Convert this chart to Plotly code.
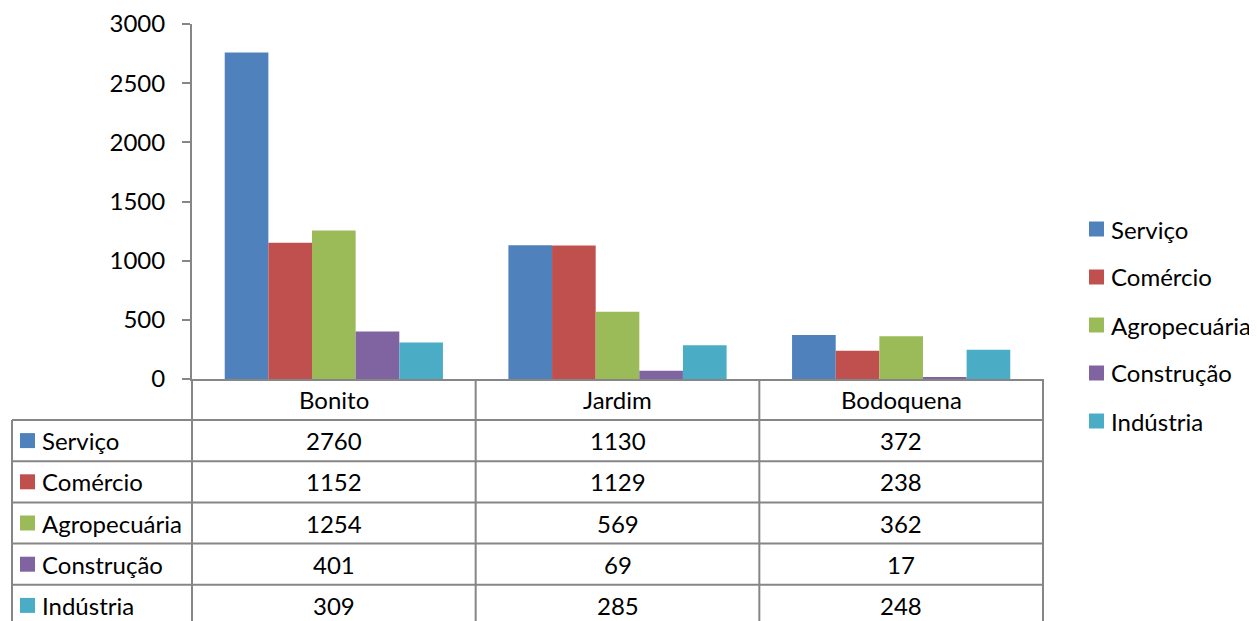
import plotly.graph_objects as go

categories = ["Bonito", "Jardim", "Bodoquena"]
series_names = ["Serviço", "Comércio", "Agropecuária", "Construção", "Indústria"]
servico = [2760, 1130, 372]
comercio = [1152, 1129, 238]
agropecuaria = [1254, 569, 362]
construcao = [401, 69, 17]
industria = [309, 285, 248]
series_values = [servico, comercio, agropecuaria, construcao, industria]
colors = ["#4F81BD", "#C0504D", "#9BBB59", "#8064A2", "#4BACC6"]
y_ticks = [0, 500, 1000, 1500, 2000, 2500, 3000]

W, H = 1257, 621
OFF = 8  # page body margin offset
FONT = "Lato"
FS = 24
GRID = "#868686"
LW = 2


def px(x):
    return (x - OFF) / W


def py(y):
    return 1 - (y - OFF) / H


# layout pixel constants (screen coordinates)
PLOT_L, PLOT_R = 192, 1043
PLOT_T, PLOT_B = 24, 379
TABLE_L = 12
ROW_H = 41.2
HEADER_B = 420

fig = go.Figure()
for name, vals, col in zip(series_names, series_values, colors):
    fig.add_trace(go.Bar(x=categories, y=vals, name=name,
                         marker=dict(color=col, line=dict(width=0)), showlegend=False))

shapes = []
annotations = []
line = dict(color=GRID, width=LW)

# horizontal table lines
for i in range(5):
    yv = HEADER_B + i * ROW_H
    shapes.append(dict(type="line", xref="paper", yref="paper", x0=px(TABLE_L), x1=px(PLOT_R),
                       y0=py(yv), y1=py(yv), line=line))
# vertical table lines
shapes.append(dict(type="line", xref="paper", yref="paper", x0=px(TABLE_L), x1=px(TABLE_L),
                   y0=py(HEADER_B), y1=py(640), line=line))
ncat = len(categories)
for k in range(ncat + 1):
    xv = PLOT_L + (PLOT_R - PLOT_L) * k / ncat
    shapes.append(dict(type="line", xref="paper", yref="paper", x0=px(xv), x1=px(xv),
                       y0=py(PLOT_B), y1=py(640), line=line))

# header row (category labels)
for c in categories:
    annotations.append(dict(x=c, xref="x", y=py(PLOT_B + (HEADER_B - PLOT_B) / 2), yref="paper",
                            text=c, showarrow=False, xanchor="center", yanchor="middle",
                            font=dict(family=FONT, size=FS, color="black")))

# data rows
for i, (name, vals, col) in enumerate(zip(series_names, series_values, colors)):
    yc = HEADER_B + ROW_H * i + ROW_H / 2
    shapes.append(dict(type="rect", xref="paper", yref="paper", x0=px(20), x1=px(35),
                       y0=py(yc + 7.5), y1=py(yc - 7.5), fillcolor=col, line=dict(width=0)))
    annotations.append(dict(x=px(40), xref="paper", y=py(yc), yref="paper", text=name,
                            showarrow=False, xanchor="left", yanchor="middle",
                            font=dict(family=FONT, size=FS, color="black")))
    for c, v in zip(categories, vals):
        annotations.append(dict(x=c, xref="x", y=py(yc), yref="paper", text=str(v),
                                showarrow=False, xanchor="center", yanchor="middle",
                                font=dict(family=FONT, size=FS, color="black")))

# right legend
for i, (name, col) in enumerate(zip(series_names, colors)):
    yc = 229 + 48 * i
    shapes.append(dict(type="rect", xref="paper", yref="paper", x0=px(1089), x1=px(1104),
                       y0=py(yc + 7.5), y1=py(yc - 7.5), fillcolor=col, line=dict(width=0)))
    annotations.append(dict(x=px(1109), xref="paper", y=py(yc), yref="paper", text=name,
                            showarrow=False, xanchor="left", yanchor="middle",
                            font=dict(family=FONT, size=FS, color="black")))

fig.update_layout(
    width=W, height=H,
    margin=dict(l=0, r=0, t=0, b=0, pad=0),
    paper_bgcolor="white", plot_bgcolor="white",
    barmode="group", bargap=1.5 / 6.5, bargroupgap=0,
    xaxis=dict(domain=[px(PLOT_L), px(PLOT_R)], showticklabels=False, ticks="",
               showline=True, linecolor=GRID, linewidth=LW, showgrid=False, zeroline=False,
               automargin=False),
    yaxis=dict(domain=[py(PLOT_B), py(PLOT_T)], range=[0, 3000], tickvals=y_ticks,
               showline=True, linecolor=GRID, linewidth=LW, ticks="outside", ticklen=8,
               tickcolor=GRID, tickwidth=LW, showgrid=False, zeroline=False,
               tickfont=dict(family=FONT, size=FS, color="black"), ticklabelstandoff=12,
               automargin=False),
    shapes=shapes, annotations=annotations,
)

fig.write_html("out.html")
